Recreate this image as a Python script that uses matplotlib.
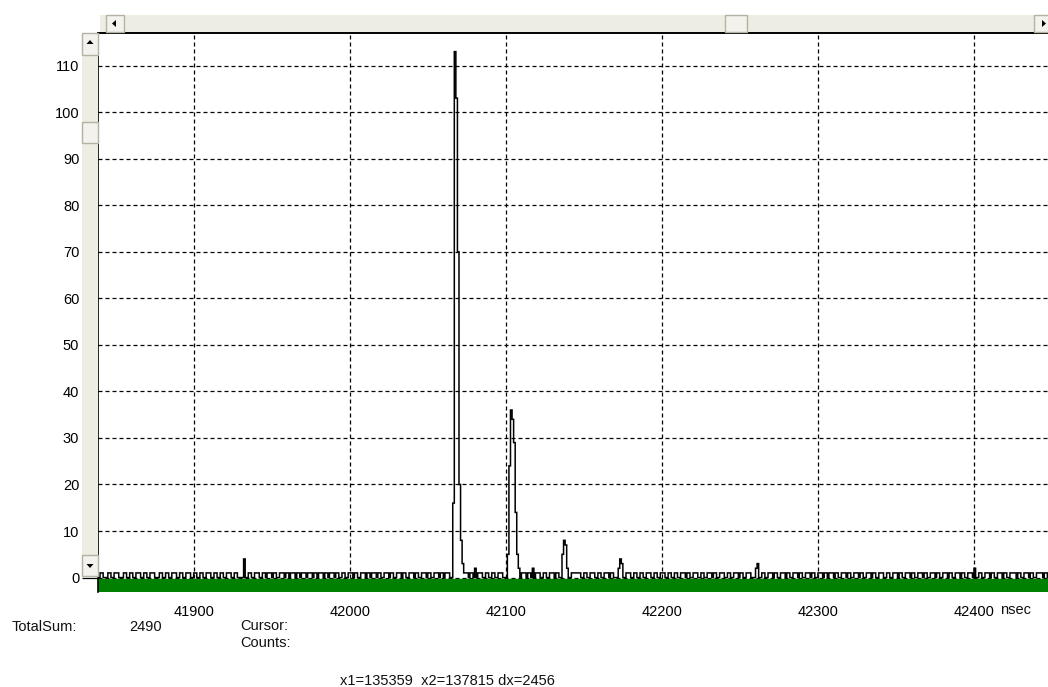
import numpy as np
import matplotlib.pyplot as plt
from matplotlib.patches import Rectangle, Polygon

plt.rcParams['font.family'] = ['Liberation Sans', 'DejaVu Sans']

# histogram: 1 ns bins
bin_first = 41838
bin_last = 42448

# baseline noise: runs of single counts (start ns, run length in bins)
noise_start = [41840, 41845, 41849, 41855, 41859, 41863, 41868, 41872, 41878, 41882,
               41886, 41891, 41895, 41900, 41904, 41908, 41913, 41917, 41921, 41926,
               41935, 41939, 41944, 41947, 41951, 41955, 41959, 41962, 41966, 41969,
               41973, 41977, 41980, 41984, 41987, 41991, 41995, 41999, 42003, 42007,
               42011, 42014, 42018, 42022, 42026, 42030, 42034, 42038, 42042, 42046,
               42050, 42054, 42058, 42061, 42074, 42077, 42082, 42087, 42091, 42095,
               42110, 42114, 42119, 42124, 42128, 42132, 42142, 42150, 42154, 42159,
               42163, 42167, 42177, 42182, 42186, 42190, 42195, 42199, 42204, 42208,
               42212, 42216, 42220, 42225, 42229, 42233, 42237, 42242, 42246, 42250,
               42254, 42264, 42268, 42272, 42276, 42280, 42284, 42288, 42292, 42296,
               42300, 42304, 42307, 42311, 42315, 42319, 42323, 42327, 42331, 42335,
               42339, 42344, 42348, 42352, 42356, 42360, 42364, 42368, 42372, 42376,
               42380, 42384, 42388, 42392, 42396, 42403, 42407, 42411, 42415, 42419,
               42423, 42428, 42432, 42436, 42440, 42445]
noise_len = [2, 2, 3, 2, 2, 3, 2, 3, 2, 2,
             3, 2, 3, 2, 2, 3, 2, 2, 3, 2,
             2, 3, 2, 3, 2, 3, 2, 3, 2, 3,
             3, 2, 3, 2, 3, 2, 2, 3, 2, 3,
             2, 3, 2, 3, 2, 3, 2, 3, 2, 3,
             2, 3, 2, 3, 2, 2, 3, 2, 2, 3,
             3, 2, 3, 2, 3, 2, 6, 2, 3, 2,
             3, 2, 3, 2, 2, 3, 2, 3, 2, 2,
             3, 2, 3, 2, 3, 2, 3, 2, 3, 2,
             3, 2, 3, 2, 3, 2, 3, 2, 3, 2,
             3, 2, 3, 2, 3, 2, 3, 2, 3, 2,
             3, 2, 3, 2, 3, 2, 3, 2, 3, 2,
             3, 2, 3, 2, 3, 2, 3, 2, 3, 2,
             4, 2, 3, 2, 4, 2]

# larger bins: peaks and taller noise spikes
peak_ns = [41932, 42066, 42067, 42068, 42069, 42070, 42071, 42072, 42073, 42080,
           42101, 42102, 42103, 42104, 42105, 42106, 42107, 42108, 42117,
           42136, 42137, 42138, 42139, 42172, 42173, 42174, 42260, 42261, 42400]
peak_counts = [4, 16, 113, 103, 70, 20, 8, 3, 1, 2,
               5, 24, 36, 34, 29, 14, 5, 2, 2,
               5, 8, 7, 2, 2, 4, 3, 2, 3, 2]

x_ticks = [41900, 42000, 42100, 42200, 42300, 42400]
y_ticks = [0, 10, 20, 30, 40, 50, 60, 70, 80, 90, 100, 110]

edges = np.arange(bin_first, bin_last + 1)
counts = np.zeros(len(edges) - 1)
for s, n in zip(noise_start, noise_len):
    i = s - bin_first
    counts[i:i + n] = 1
counts[np.array(peak_ns) - bin_first] = peak_counts

W, H = 1048, 687
fig = plt.figure(figsize=(W / 100, H / 100), dpi=100)
ax = fig.add_axes([98 / W, 1 - 592 / H, 1 - 98 / W, (592 - 33) / H])

ax.set_xlim(41838.7, 42447.4)
ax.set_ylim(-3.1, 117.0)
ax.axhspan(-3.1, -0.35, color='#008000', zorder=1)
ax.stairs(counts, edges, color='black', lw=1.1, zorder=3)

ax.set_xticks(x_ticks)
ax.set_yticks(y_ticks)
ax.grid(True, color='black', linestyle=(0, (3.2, 2.4)), lw=0.9, zorder=0)
ax.set_axisbelow(True)
ax.tick_params(axis='x', length=0, pad=9, labelsize=10.5)
ax.tick_params(axis='y', length=11.5, width=0.9, pad=2, labelsize=10.5)
for s in ['right', 'bottom']:
    ax.spines[s].set_visible(False)
ax.spines['top'].set_linewidth(1.4)
ax.spines['left'].set_linewidth(1.2)

# overlay in pixel coordinates for the window furniture and text
ov = fig.add_axes([0, 0, 1, 1], zorder=5)
ov.set_xlim(0, W)
ov.set_ylim(H, 0)
ov.axis('off')
ov.patch.set_alpha(0)

bar_bg = '#EEEDE4'
btn = '#F3F2EC'
edge = '#B5B2A2'
# top scrollbar
ov.add_patch(Rectangle((100, 15), 948, 17, fc=bar_bg, ec='none'))
ov.add_patch(Rectangle((106, 15), 18, 17, fc=btn, ec=edge, lw=1))
ov.add_patch(Polygon([(112, 23.5), (116, 20), (116, 27)], fc='black'))
ov.add_patch(Rectangle((725, 15), 22, 17, fc=btn, ec=edge, lw=1))
ov.add_patch(Rectangle((1034, 15), 16, 17, fc=btn, ec=edge, lw=1))
ov.add_patch(Polygon([(1046, 23.5), (1042, 20), (1042, 27)], fc='black'))
# left scrollbar
ov.add_patch(Rectangle((82, 33), 16, 543, fc=bar_bg, ec='none'))
ov.add_patch(Rectangle((82, 33), 16, 22, fc=btn, ec=edge, lw=1))
ov.add_patch(Polygon([(90, 40), (86.5, 44), (93.5, 44)], fc='black'))
ov.add_patch(Rectangle((82, 122), 16, 21, fc=btn, ec=edge, lw=1))
ov.add_patch(Rectangle((82, 555), 16, 21, fc=btn, ec=edge, lw=1))
ov.add_patch(Polygon([(90, 568), (86.5, 564), (93.5, 564)], fc='black'))

txt = dict(fontsize=10.5, va='center', color='#111111')
ov.text(1000, 610, 'nsec', ha='left', **txt)
ov.text(12, 627, 'TotalSum:', ha='left', **txt)
ov.text(129, 627, '2490', ha='left', **txt)
ov.text(240, 626, 'Cursor:', ha='left', **txt)
ov.text(240, 643, 'Counts:', ha='left', **txt)
ov.text(340, 681, 'x1=135359  x2=137815 dx=2456', ha='left', **txt)

fig.savefig('out.png', dpi=100)
